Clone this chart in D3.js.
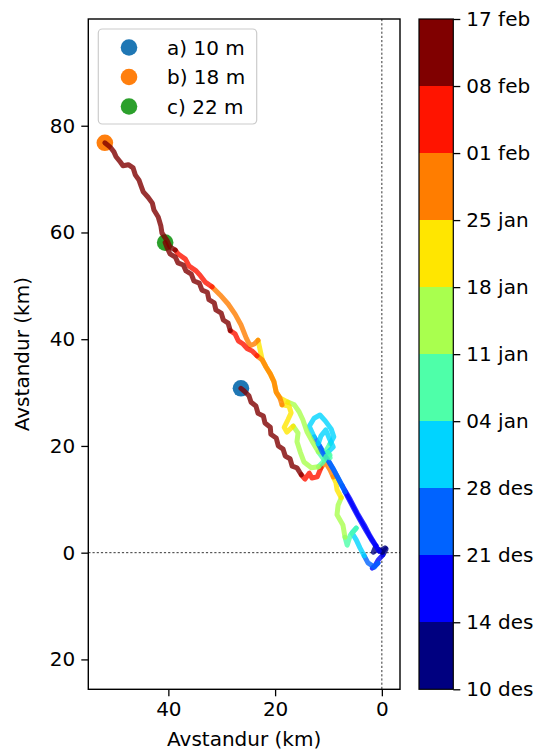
<!DOCTYPE html>
<html><head><meta charset="utf-8">
<script src="https://cdn.jsdelivr.net/npm/d3@7"></script>
<style>body{margin:0;background:#fff} svg{display:block} text{font-family:"DejaVu Sans",sans-serif;fill:#000}</style>
</head><body><svg id="c" width="544" height="754"></svg>
<script>
// ---------- data ----------
const seriesLabels = ["a) 10 m", "b) 18 m", "c) 22 m"];
const seriesColors = ["#1f77b4", "#ff7f0e", "#2ca02c"];
// colorbar: boundaries in days after 10 des, and their labels
const dateDays   = [0, 4, 11, 18, 25, 32, 39, 46, 53, 60, 69];
const dateLabels = ["10 des","14 des","21 des","28 des","04 jan","11 jan","18 jan","25 jan","01 feb","08 feb","17 feb"];
const binColors  = ["#000080","#0000ff","#0063ff","#00d4ff","#4effa9","#a9ff4e","#ffe600","#ff7d00","#ff1400","#800000"];
const xTicks = [40, 20, 0];
const yTicks = [80, 60, 40, 20, 0, -20];
// tracks: [x km (west positive), y km, day]
const trackA = [
 [-0.1,0.1,0],[-0.8,0.7,1],[-0.2,-0.4,3],[0.7,-1.4,5],[1.3,-2.5,7],[1.8,-2.9,9],[0.7,-1.9,11],[1.4,-2.7,13],
 [2.6,-1.9,16],[3.3,-0.6,19],[4.1,0.9,21],[4.8,2.4,23],[5.6,3.7,24],[4.8,4.6,25],[5.9,3.3,27],[6.5,1.4,29],
 [6.9,2.9,31],[7.3,5.2,33],[8.4,7.1,35],[8.2,8.9,37],[7.6,10.3,39],[8.4,11.8,41],[8.6,13.1,43],[9.1,14.2,46],
 [9.7,15.5,48],[10.6,17.0,51],[11.4,15.9,53],[12.1,14.2,54],[13.1,14.0,55],[13.6,14.9,56],[14.4,13.8,57],
 [15.1,14.6,59],[15.9,15.9,61],[16.8,16.2,61.5],[17.2,17.6,62],[18.1,18.1,62.5],[18.5,19.4,63],[19.4,20.0,63.5],
 [19.8,21.5,64],[20.8,22.2,64.5],[20.9,23.5,65],[21.9,24.3,65.5],[22.2,25.6,66],[23.2,26.1,66.5],[23.6,27.5,67],
 [24.5,28.2,67.5],[24.9,29.4,68],[25.8,30.3,68.5],[26.4,30.8,69]
];
const trackB = [
 [-0.1,0.1,0],[0.7,0.7,2],[1.6,0.1,3],[1.1,1.3,4],[2.2,3.1,5.5],[3.3,5.2,7],[4.6,7.4,8.5],[5.9,9.9,10],
 [7.4,12.5,11.5],[8.8,15.1,13],[10.1,17.4,14.5],[11.3,19.4,16],[12.7,21.7,17.5],[13.6,23.7,18.5],[12.7,25.2,19.5],
 [11.6,25.8,20.5],[10.6,24.7,21.5],[9.5,23.2,22.5],[9.0,21.7,23.5],[9.7,20.4,24.5],[10.4,19.2,26],[9.7,18.3,28],
 [10.8,17.4,30],[11.9,18.9,32],[12.9,20.6,33],[14.0,22.6,34],[14.8,24.9,35],[15.5,26.4,36],[16.4,27.7,37.5],
 [17.6,28.2,39],[19.1,29.0,40],[19.8,30.1,41],[20.2,32.0,42],[20.9,33.5,43],[21.7,34.8,44],[22.4,36.1,45],
 [23.2,39.8,46],[23.9,39.1,47],[24.7,38.8,47.5],[25.4,40.2,48],[26.4,42.7,49],[27.5,44.7,50],[28.8,46.6,51],
 [30.3,48.3,52],[31.8,49.8,53],[33.1,50.7,54],[34.0,51.9,55],[34.8,52.8,56],[36.1,53.7,57],[36.8,55.0,58],
 [38.2,56.0,59],[38.7,56.7,60],[39.7,57.3,60.5],[40.2,58.4,61],[41.2,59.9,61.5],[41.4,61.2,62],[41.9,62.9,62.5],
 [42.7,64.2,63],[43.0,65.5,63.5],[43.8,66.6,64],[44.7,67.6,64.5],[45.1,68.7,65],[45.5,69.8,65.5],[46.2,70.8,66],
 [46.6,72.1,66.5],[47.5,72.7,67],[48.5,72.5,67.5],[49.0,73.2,68],[49.8,74.2,68.3],[50.2,75.1,68.6],[50.9,76.0,68.8],
 [51.9,76.8,69]
];
const trackC = [
 [-0.1,0.1,0],[-0.6,0.9,2],[0.5,0.3,4],[1.8,2.2,5.5],[3.0,4.2,7],[4.3,6.5,8.5],[5.6,8.9,10],[6.9,11.4,11],
 [8.0,13.6,12.5],[9.1,15.7,14],[10.3,17.6,15.5],[11.2,18.9,17],[11.9,20.4,18],[11.4,21.9,19],[10.5,23.0,20.5],
 [9.9,21.5,22],[9.1,19.8,24],[10.1,18.8,25],[9.7,17.8,27],[10.4,18.1,29],[11.0,17.0,31],[11.9,16.1,32.5],
 [13.2,15.9,33.5],[14.6,17.0,34.5],[15.3,18.9,35.5],[15.9,20.8,36.5],[15.7,22.4,37.5],[16.6,23.7,38.5],
 [17.8,22.6,39.5],[18.3,23.5,40.5],[17.6,24.9,41.5],[17.0,26.2,43],[17.4,27.5,45],[18.7,27.7,46],[19.1,29.0,47],
 [19.8,30.1,48],[20.2,32.0,49],[20.9,33.5,50],[21.7,34.8,51],[22.4,36.1,52],[23.4,36.9,53],[24.3,37.8,54],
 [25.2,38.2,55],[26.0,39.1,56.5],[26.9,39.7,58],[27.5,41.0,59],[28.4,41.6,60],[28.8,43.0,60.5],[29.7,43.6,61],
 [30.1,44.9,61.5],[31.1,45.5,62],[31.4,46.8,62.5],[32.4,47.4,63],[32.7,48.8,63.5],[33.7,49.2,64],[34.2,50.5,64.5],
 [35.2,50.9,65],[35.7,52.2,65.5],[36.7,52.8,66],[37.2,53.9,66.5],[38.2,54.3,67],[38.7,55.4,67.5],[39.7,56.0,68],
 [40.2,57.1,68.5],[40.6,58.1,69]
];
const tracks = [trackA, trackB, trackC];

// ---------- layout ----------
const svg = d3.select("#c");
const P = {l: 88.3, r: 400, t: 19, b: 689.3};
const x = d3.scaleLinear().domain([55.0, -3.4]).range([P.l, P.r]);
const y = d3.scaleLinear().domain([100, -25.6]).range([P.t, P.b]);
const FS = 20;

svg.append("defs").append("clipPath").attr("id","clip")
  .append("rect").attr("x",P.l).attr("y",P.t).attr("width",P.r-P.l).attr("height",P.b-P.t);

const plot = svg.append("g").attr("clip-path","url(#clip)");

// reference dashed lines
plot.append("line").attr("x1",x(0)).attr("x2",x(0)).attr("y1",P.t).attr("y2",P.b)
  .attr("stroke","#000").attr("stroke-width",0.8).attr("stroke-dasharray","2.2,2");
plot.append("line").attr("x1",P.l).attr("x2",P.r).attr("y1",y(0)).attr("y2",y(0))
  .attr("stroke","#000").attr("stroke-width",0.8).attr("stroke-dasharray","2.2,2");

// endpoint dots (underneath tracks)
tracks.forEach((t,i)=>{
  const e = t[t.length-1];
  plot.append("circle").attr("cx",x(e[0])).attr("cy",y(e[1])).attr("r",8.3).attr("fill",seriesColors[i]);
});

// colour by date
const colorOf = d3.scaleThreshold().domain(dateDays.slice(1,-1)).range(binColors);
const line = d3.line().x(d=>x(d[0])).y(d=>y(d[1]));

tracks.forEach(t=>{
  let runs = [];
  let cur = null;
  for (let i=0;i<t.length-1;i++){
    const c = colorOf((t[i][2]+t[i+1][2])/2);
    if (!cur || cur.c!==c){ cur = {c, pts:[t[i]]}; runs.push(cur); }
    cur.pts.push(t[i+1]);
  }
  runs.forEach(r=>{
    plot.append("path").attr("d",line(r.pts)).attr("fill","none")
      .attr("stroke",r.c).attr("stroke-width",5).attr("stroke-linecap","round")
      .attr("stroke-linejoin","round").attr("stroke-opacity",0.8);
  });
});

// frame
svg.append("rect").attr("x",P.l).attr("y",P.t).attr("width",P.r-P.l).attr("height",P.b-P.t)
  .attr("fill","none").attr("stroke","#000").attr("stroke-width",1.4);

// axes
const gx = svg.append("g").attr("transform",`translate(0,${P.b})`)
  .call(d3.axisBottom(x).tickValues(xTicks).tickSize(7).tickPadding(6).tickFormat(d3.format("d")));
const gy = svg.append("g").attr("transform",`translate(${P.l},0)`)
  .call(d3.axisLeft(y).tickValues(yTicks).tickSize(7).tickPadding(6).tickFormat(d=>Math.abs(d)));
[gx,gy].forEach(g=>{
  g.select(".domain").remove();
  g.selectAll(".tick line").attr("stroke","#000").attr("stroke-width",1.3);
  g.selectAll("text").attr("font-size",FS).attr("font-family","DejaVu Sans").attr("fill","#000");
});

svg.append("text").attr("x",(P.l+P.r)/2).attr("y",746).attr("text-anchor","middle")
  .attr("font-size",FS).text("Avstandur (km)");
svg.append("text").attr("transform",`translate(29,${(P.t+P.b)/2}) rotate(-90)`).attr("text-anchor","middle")
  .attr("font-size",FS).text("Avstandur (km)");

// legend
const lg = svg.append("g");
lg.append("rect").attr("x",98.3).attr("y",29).attr("width",158.4).attr("height",95).attr("rx",4)
  .attr("fill","#fff").attr("fill-opacity",0.8).attr("stroke","#cccccc").attr("stroke-width",1.2);
seriesLabels.forEach((s,i)=>{
  const cy = 47.5 + i*29.5;
  lg.append("circle").attr("cx",129).attr("cy",cy).attr("r",8.3).attr("fill",seriesColors[i]);
  lg.append("text").attr("x",167).attr("y",cy).attr("dy","0.36em").attr("font-size",FS).text(s);
});

// colorbar
const cb = {l: 419, r: 453.3};
const cy = d3.scaleLinear().domain([0, dateDays.length-1]).range([P.b, P.t]);
binColors.forEach((c,i)=>{
  svg.append("rect").attr("x",cb.l).attr("y",cy(i+1)).attr("width",cb.r-cb.l).attr("height",cy(i)-cy(i+1))
    .attr("fill",c).attr("shape-rendering","crispEdges");
});
svg.append("rect").attr("x",cb.l).attr("y",P.t).attr("width",cb.r-cb.l).attr("height",P.b-P.t)
  .attr("fill","none").attr("stroke","#000").attr("stroke-width",1.2);
const gc = svg.append("g").attr("transform",`translate(${cb.r},0)`)
  .call(d3.axisRight(cy).tickValues(d3.range(dateLabels.length)).tickSize(7).tickPadding(6)
    .tickFormat(i=>dateLabels[i]));
gc.select(".domain").remove();
gc.selectAll(".tick line").attr("stroke","#000").attr("stroke-width",1.3);
gc.selectAll("text").attr("font-size",FS).attr("font-family","DejaVu Sans").attr("fill","#000");
</script></body></html>
